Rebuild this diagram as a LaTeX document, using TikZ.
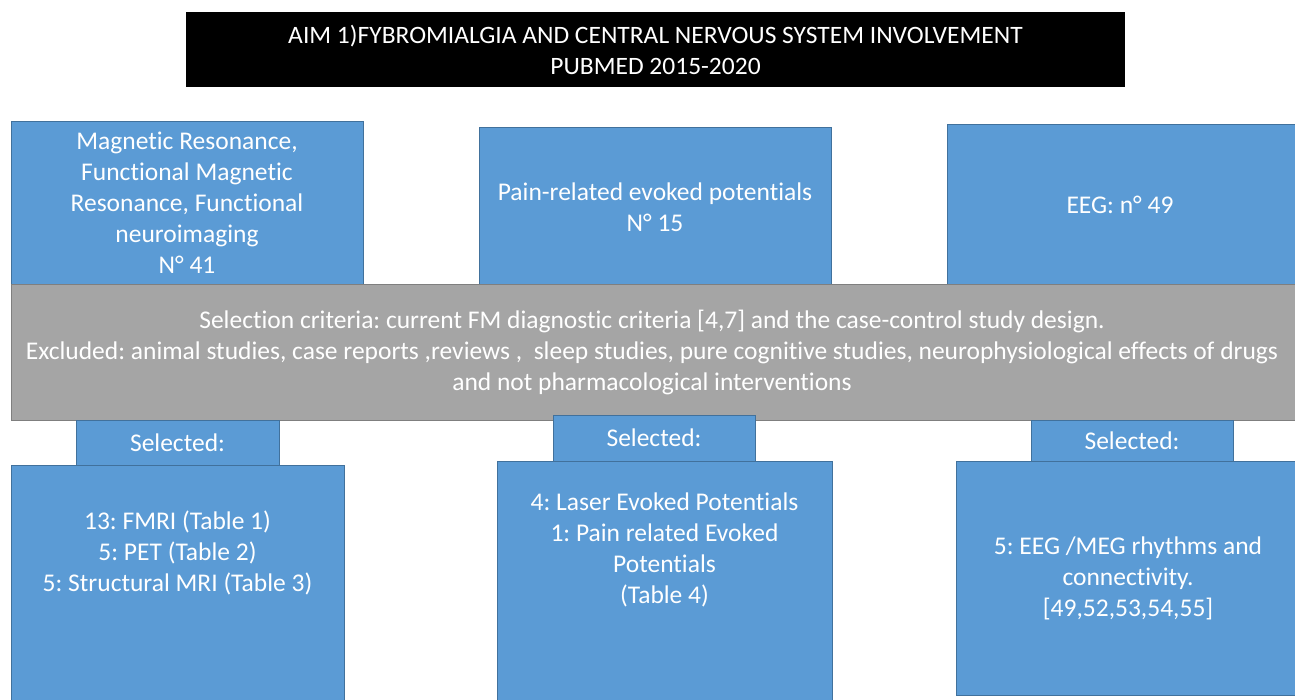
\documentclass[tikz,border=0pt]{standalone}
\usepackage{fontspec}
\setmainfont[Ligatures=NoCommon]{Carlito}
\frenchspacing
\begin{document}
\begin{tikzpicture}[x=1pt,y=-1pt,
  bluebox/.style={draw=boxedge,fill=boxblue,line width=0.8pt,inner sep=0pt},
  graybox/.style={draw=grayedge,fill=boxgray,line width=0.8pt,inner sep=0pt},
  lbl/.style={text=white,align=center,font=\fontsize{25.5}{31}\selectfont,inner sep=0pt}]
\definecolor{boxblue}{HTML}{5B9BD5}
\definecolor{boxedge}{HTML}{41719C}
\definecolor{boxgray}{HTML}{A5A5A5}
\definecolor{grayedge}{HTML}{7F7F7F}
\useasboundingbox (0,0) rectangle (1295,699);
\fill[white] (0,0) rectangle (1295,699);
% title
\node[fill=black,inner sep=0pt,minimum width=939pt,minimum height=75pt] (title) at (655.5,49.5) {};
\node[lbl,font=\fontsize{25}{31}\selectfont] (titletext) at (title.center) {\scalebox{1.02}[1]{AIM 1)FYBROMIALGIA AND CENTRAL NERVOUS SYSTEM INVOLVEMENT}\\\scalebox{1.02}[1]{PUBMED 2015-2020}};
% top boxes
\node[bluebox,minimum width=352pt,minimum height=170pt] (mr) at (187,206) {};
\node[lbl] (mrtext) at (187,203) {Magnetic Resonance,\\Functional Magnetic\\Resonance, Functional\\neuroimaging\\N° 41};
\node[bluebox,minimum width=352pt,minimum height=164pt] (pep) at (655,209) {};
\node[lbl] (peptext) at (655,207.5) {Pain-related evoked potentials\\N° 15};
\node[bluebox,minimum width=360pt,minimum height=167pt] (eeg) at (1127,207.5) {};
\node[lbl] (eegtext) at (1120,205) {EEG: n° 49};
% gray criteria box
\node[graybox,minimum width=1300pt,minimum height=136pt] (crit) at (661,352) {};
\node[lbl] (crittext) at (652,352) {Selection criteria: current FM diagnostic criteria [4,7] and the case-control study design.\\Excluded: animal studies, case reports ,reviews ,\ \ sleep studies, pure cognitive studies, neurophysiological effects of drugs\\and not pharmacological interventions};
% selected tabs
\node[bluebox,minimum width=203pt,minimum height=45pt] (sel1) at (177.5,442.5) {};
\node[lbl] (sel1text) at (sel1.center) {Selected:};
\node[bluebox,minimum width=202pt,minimum height=46pt] (sel2) at (654,438) {};
\node[lbl] (sel2text) at (sel2.center) {Selected:};
\node[bluebox,minimum width=202pt,minimum height=41pt] (sel3) at (1132,440.5) {};
\node[lbl] (sel3text) at (sel3.center) {Selected:};
% bottom boxes
\node[bluebox,minimum width=333pt,minimum height=250pt] (res1) at (177.5,590) {};
\node[lbl] (res1text) at (177.5,553) {13: FMRI (Table 1)\\5: PET (Table 2)\\5: Structural MRI (Table 3)};
\node[bluebox,minimum width=335pt,minimum height=250pt] (res2) at (664.5,586) {};
\node[lbl] (res2text) at (664.5,550) {4: Laser Evoked Potentials\\1: Pain related Evoked\\Potentials\\(Table 4)};
\node[bluebox,minimum width=345pt,minimum height=234pt] (res3) at (1128.5,578) {};
\node[lbl] (res3text) at (1128,578) {5: EEG /MEG rhythms and\\connectivity.\\{[49,52,53,54,55]}};
\end{tikzpicture}
\end{document}
